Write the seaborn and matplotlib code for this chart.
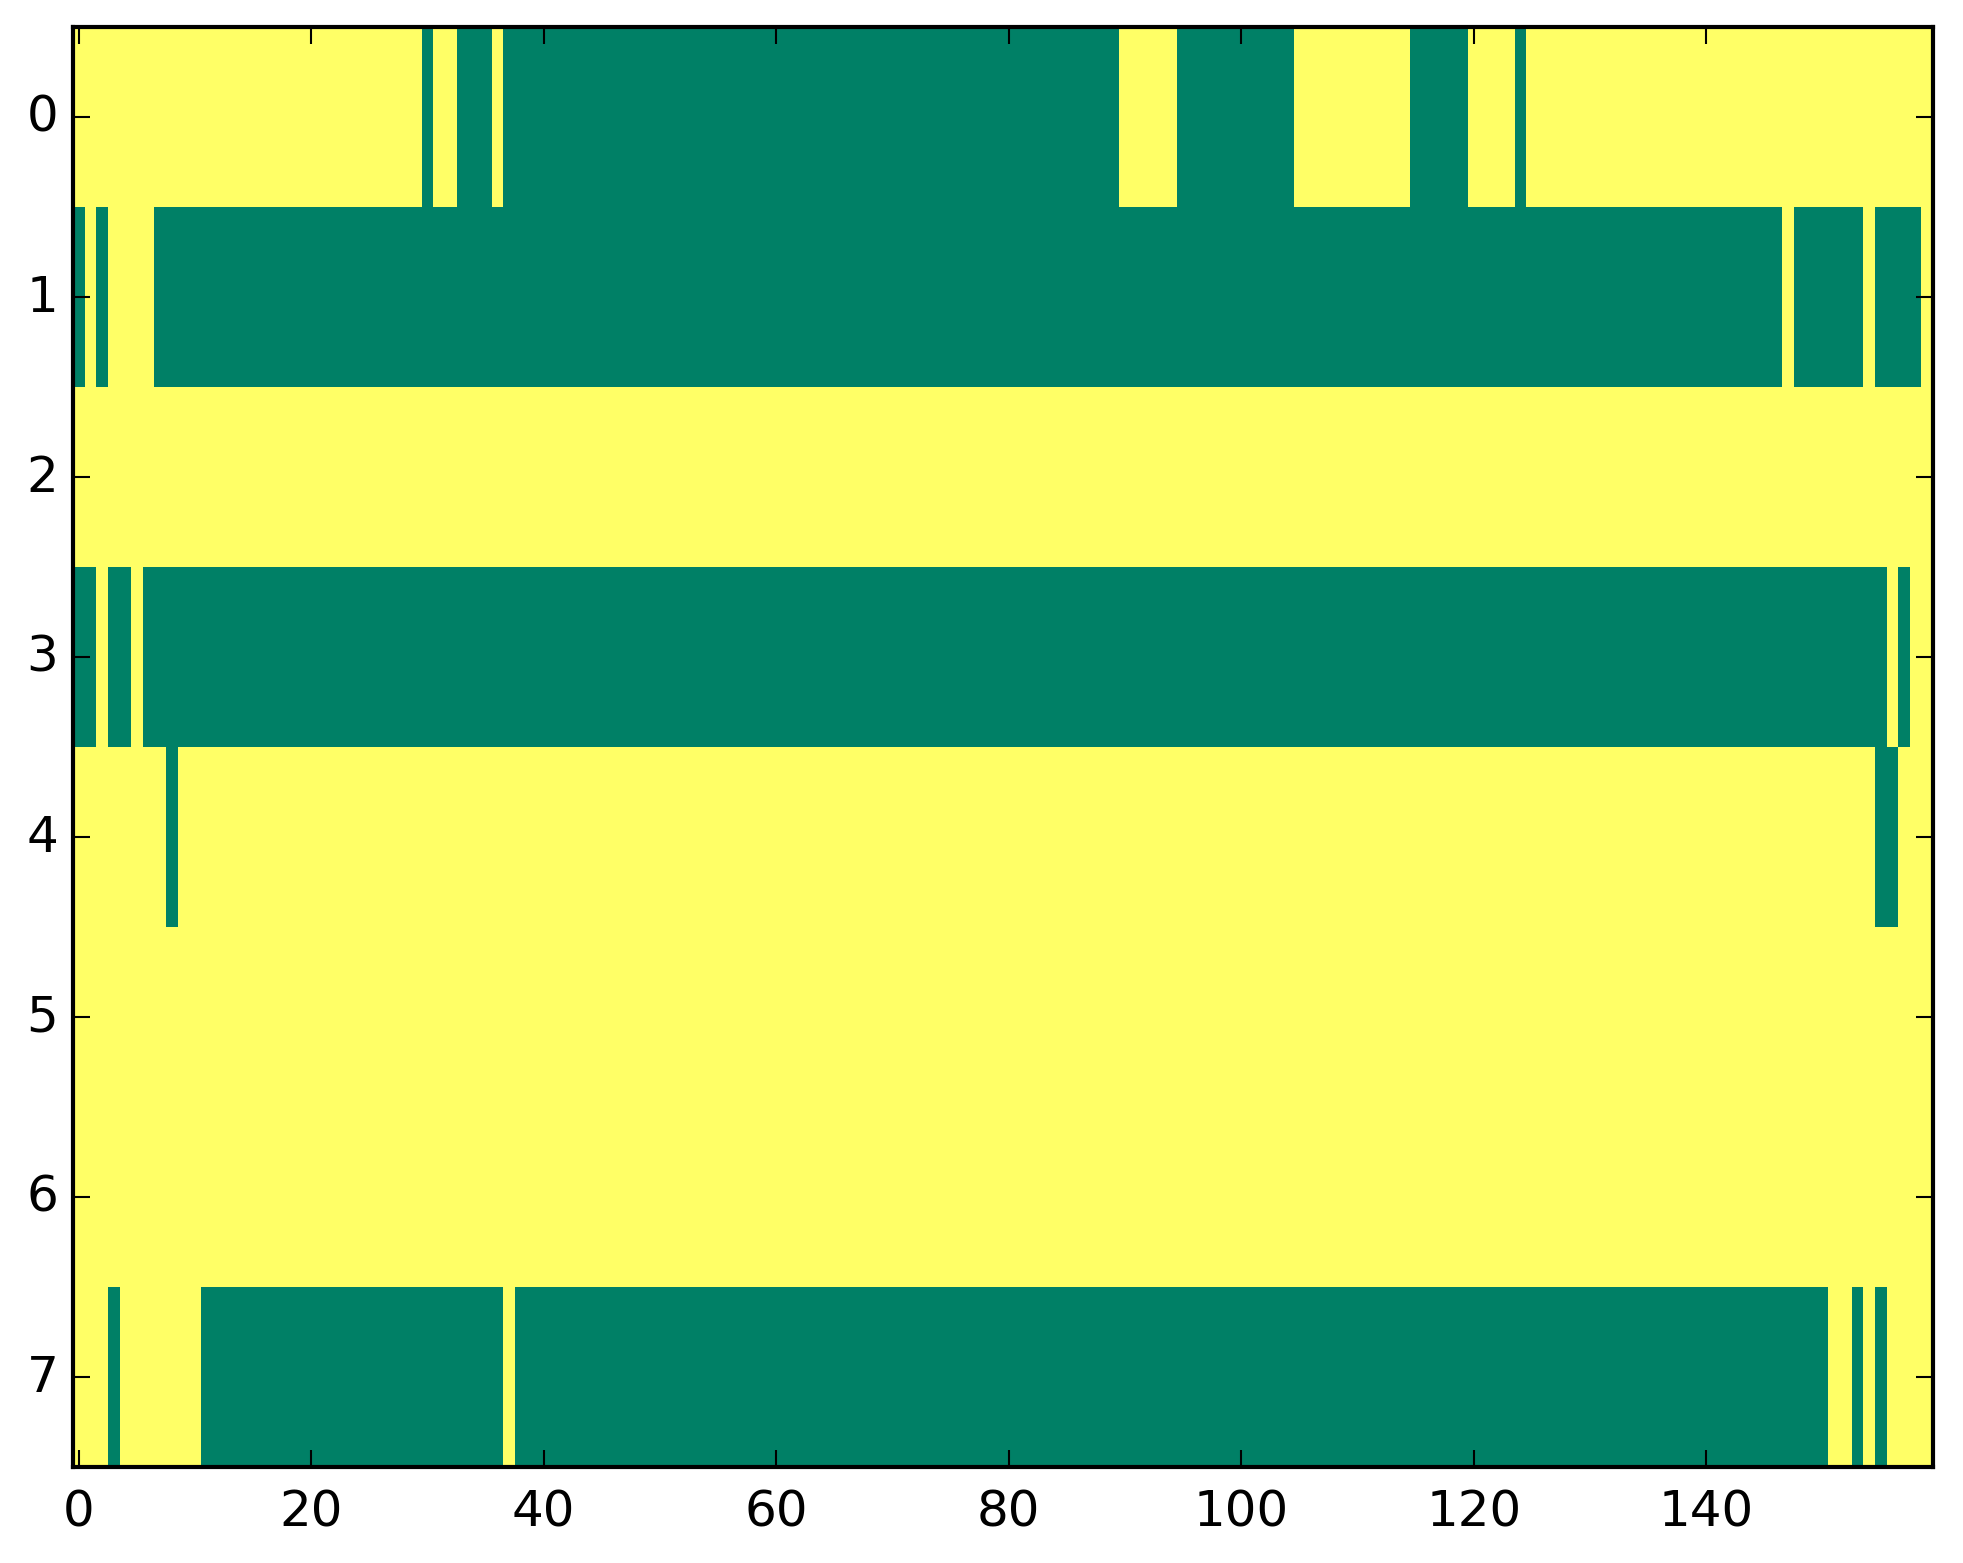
import numpy as np
import matplotlib
matplotlib.use("Agg")
import matplotlib.pyplot as plt
import seaborn as sns

# cell values per row as (value, run length); 0 = green, 1 = yellow
row_0 = [(1, 30), (0, 1), (1, 2), (0, 3), (1, 1), (0, 53), (1, 5), (0, 10), (1, 10), (0, 5), (1, 4), (0, 1), (1, 35)]
row_1 = [(0, 1), (1, 1), (0, 1), (1, 4), (0, 140), (1, 1), (0, 6), (1, 1), (0, 4), (1, 1)]
row_2 = [(1, 160)]
row_3 = [(0, 2), (1, 1), (0, 2), (1, 1), (0, 150), (1, 1), (0, 1), (1, 2)]
row_4 = [(1, 8), (0, 1), (1, 146), (0, 2), (1, 3)]
row_5 = [(1, 160)]
row_6 = [(1, 160)]
row_7 = [(1, 3), (0, 1), (1, 7), (0, 26), (1, 1), (0, 113), (1, 2), (0, 1), (1, 1), (0, 1), (1, 4)]

x_ticks = [0, 20, 40, 60, 80, 100, 120, 140]
y_ticks = [0, 1, 2, 3, 4, 5, 6, 7]

rows = [row_0, row_1, row_2, row_3, row_4, row_5, row_6, row_7]
grid = np.array([[v for v, n in r for _ in range(n)] for r in rows], dtype=float)

plt.style.use('classic')
fig = plt.figure(figsize=(1963 / 300, 1564 / 300), dpi=300)
ax = fig.add_axes([73 / 1963, 96 / 1564, 1860 / 1963, 1440 / 1564])

sns.heatmap(grid, cmap='summer', vmin=0, vmax=1, cbar=False, ax=ax)

ax.set_xticks([t + 0.5 for t in x_ticks])
ax.set_xticklabels([str(t) for t in x_ticks], rotation=0, fontsize=12)
ax.set_yticks([t + 0.5 for t in y_ticks])
ax.set_yticklabels([str(t) for t in y_ticks], rotation=0, fontsize=12, va='center')
ax.tick_params(direction='in', top=True, right=True, bottom=True, left=True,
               length=4, width=0.5, colors='black')
ax.tick_params(axis='x', pad=5)
ax.tick_params(axis='y', pad=3.5)
for s in ax.spines.values():
    s.set_visible(True)
    s.set_linewidth(1.0)
    s.set_color('black')

fig.savefig("out.png", dpi=300)
